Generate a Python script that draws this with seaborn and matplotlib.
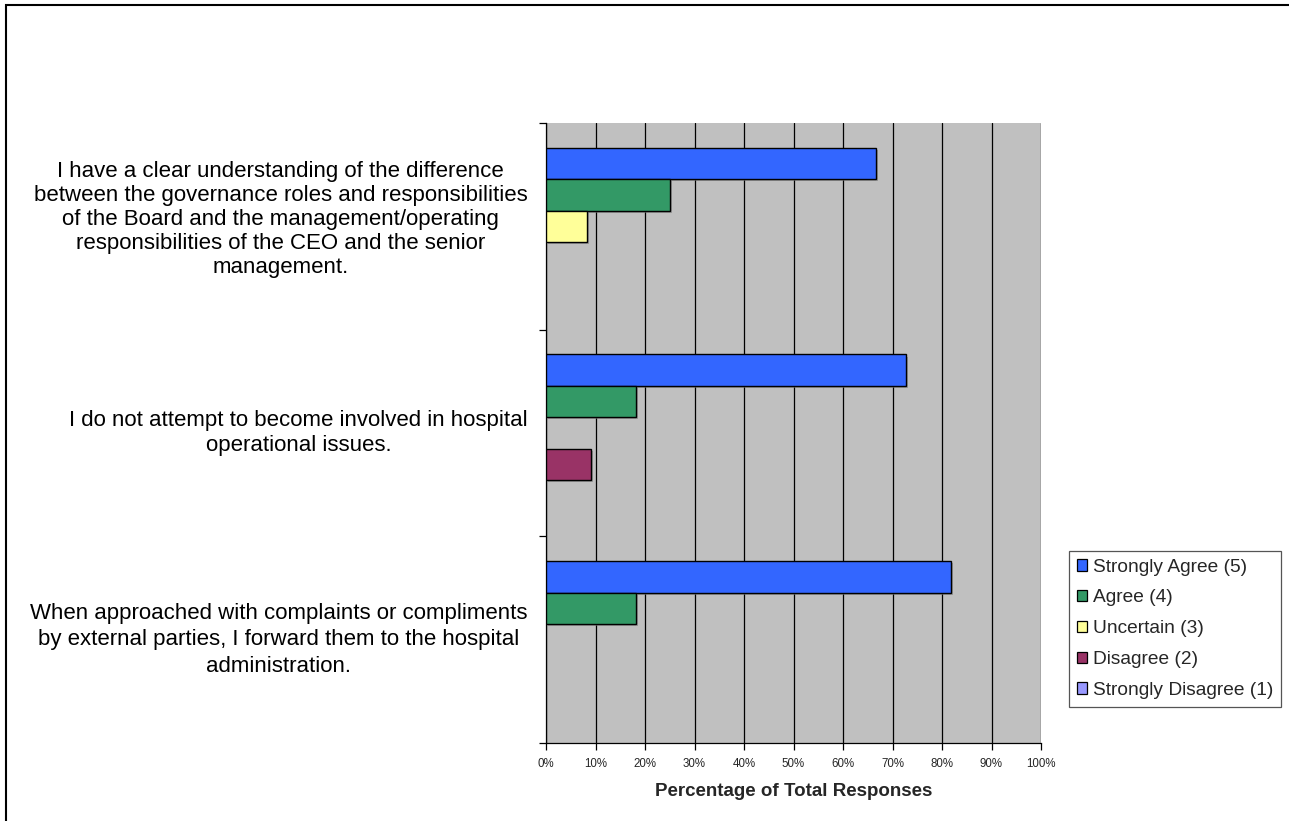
import matplotlib
matplotlib.use("Agg")
import matplotlib.pyplot as plt
import matplotlib.transforms as mtransforms
from matplotlib.patches import Patch, Rectangle
import matplotlib.patheffects as pe
import seaborn as sns
import pandas as pd

# Survey statements (category axis)
questions = [
    "I have a clear understanding of the difference\n"
    "between the governance roles and responsibilities\n"
    "of the Board and the management/operating\n"
    "responsibilities of the CEO and the senior\n"
    "management.",
    "I do not attempt to become involved in hospital\n"
    "operational issues.",
    "When approached with complaints or compliments\n"
    "by external parties, I forward them to the hospital\n"
    "administration.",
]

# Response scale
responses = [
    "Strongly Agree (5)",
    "Agree (4)",
    "Uncertain (3)",
    "Disagree (2)",
    "Strongly Disagree (1)",
]
colors = ["#3366FF", "#339966", "#FFFF99", "#993366", "#9999FF"]

# Percentage of total responses per statement, in response order
strongly_agree = [66.7, 72.7, 81.8]
agree = [25.0, 18.2, 18.2]
uncertain = [8.3, 0.0, 0.0]
disagree = [0.0, 9.1, 0.0]
strongly_disagree = [0.0, 0.0, 0.0]

x_ticks = [0, 10, 20, 30, 40, 50, 60, 70, 80, 90, 100]
x_tick_labels = [f"{v}%" for v in x_ticks]

series = [strongly_agree, agree, uncertain, disagree, strongly_disagree]
rows = []
for resp, vals in zip(responses, series):
    for q, v in zip(questions, vals):
        rows.append({"question": q, "response": resp, "pct": v})
df = pd.DataFrame(rows)

sns.set_style("white")
plt.rcParams["font.family"] = ["Liberation Sans", "DejaVu Sans"]

fig = plt.figure(figsize=(12.89, 8.21), dpi=100)
ax = fig.add_axes([546 / 1289, 78 / 821, 495 / 1289, 620 / 821])
ax.set_facecolor("#C0C0C0")

sns.barplot(
    data=df, y="question", x="pct", hue="response",
    order=questions, hue_order=responses,
    palette=dict(zip(responses, colors)), saturation=1,
    width=0.76, edgecolor="black", linewidth=1.0,
    orient="h", ax=ax, legend=False,
)

shadow = [pe.SimplePatchShadow(offset=(1.5, -1.5), shadow_rgbFace="#7a7a7a", alpha=0.6),
          pe.Normal()]
for p in ax.patches:
    if p.get_width() > 0:
        p.set_path_effects(shadow)
    else:
        p.set_visible(False)
    p.set_zorder(3)

ax.set_xlim(0, 100)
ax.set_ylim(len(questions) - 0.5, -0.5)
ax.set_xticks(x_ticks, labels=x_tick_labels)
ax.grid(axis="x", color="black", linewidth=0.9)
ax.grid(axis="y", visible=False)
ax.set_axisbelow(True)

# Category boundaries carry the tick marks; statements are drawn as text
ax.set_yticks([])
ax.set_yticks([i - 0.5 for i in range(len(questions) + 1)], minor=True)
ax.tick_params(axis="y", which="minor", left=True, direction="out", length=5,
               width=0.9, color="black")
ax.tick_params(axis="x", bottom=True, direction="out", length=5, width=0.9,
               color="black", labelsize=8.3, pad=6)
ax.set_ylabel("")
ax.set_xlabel("Percentage of Total Responses", fontsize=13.5, fontweight="bold", labelpad=9)

for s in ["top", "right"]:
    ax.spines[s].set_visible(False)
for s in ["left", "bottom"]:
    ax.spines[s].set_color("black")
    ax.spines[s].set_linewidth(0.9)

label_tf = mtransforms.blended_transform_factory(ax.transAxes, ax.transData)
nudges = [0.07, 0.0, 0.0]
spacings = [1.18, 1.26, 1.34]
for i, (q, dy, ls) in enumerate(zip(questions, nudges, spacings)):
    off = mtransforms.ScaledTranslation(0, dy, fig.dpi_scale_trans)
    ax.text(-0.037, i, q, transform=label_tf + off, ha="right", va="center",
            multialignment="center", fontsize=16.0, linespacing=ls, color="black")

handles = [Patch(facecolor=c, edgecolor="black", linewidth=0.9) for c in colors]
leg = fig.legend(
    handles, responses, loc="upper left",
    bbox_to_anchor=(1069 / 1289, 1 - 551 / 821),
    fontsize=13.8, frameon=True, fancybox=False, framealpha=1,
    edgecolor="#555555", handlelength=0.55, handleheight=0.55,
    handletextpad=0.3, labelspacing=0.72, borderpad=0.4, borderaxespad=0,
)
leg.get_frame().set_linewidth(0.9)

# Outer chart frame
fig.patches.append(Rectangle((6 / 1289, -0.1), 1.2, 1.1 - 5.5 / 821,
                             transform=fig.transFigure, fill=False,
                             edgecolor="black", linewidth=1.5))

fig.savefig("out.png", dpi=100)
